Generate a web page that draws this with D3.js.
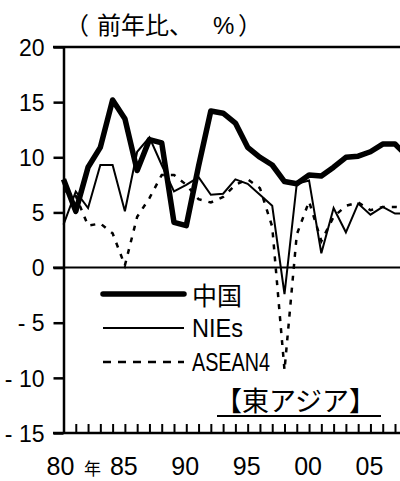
<!DOCTYPE html>
<html lang="ja">
<head>
    <meta charset="UTF-8">
    <title>東アジア 実質GDP成長率</title>
    <script src="https://cdn.jsdelivr.net/npm/d3@7/dist/d3.min.js"></script>
    <style>
        body { margin: 0; background: #fff; }
        text { fill: #000; }
    </style>
</head>
<body>
<script>
    // データ（前年比、%）
    var years = [1980, 1981, 1982, 1983, 1984, 1985, 1986, 1987, 1988, 1989,
                 1990, 1991, 1992, 1993, 1994, 1995, 1996, 1997, 1998, 1999,
                 2000, 2001, 2002, 2003, 2004, 2005, 2006, 2007, 2008];
    var china  = [8.0, 5.1, 9.1, 10.9, 15.2, 13.5, 8.8, 11.6, 11.3, 4.1,
                  3.8, 9.2, 14.2, 14.0, 13.1, 10.9, 10.0, 9.3, 7.8, 7.6,
                  8.4, 8.3, 9.1, 10.0, 10.1, 10.5, 11.2, 11.2, 10.1];
    var nies   = [3.9, 6.9, 5.4, 9.3, 9.3, 5.1, 10.5, 11.8, 9.3, 6.9,
                  7.5, 8.2, 6.6, 6.7, 8.0, 7.6, 6.6, 5.6, -2.4, 7.6,
                  7.9, 1.3, 5.4, 3.2, 5.8, 4.8, 5.5, 4.9, 4.9];
    var asean4 = [7.0, 6.5, 3.8, 4.0, 3.1, 0.2, 4.6, 6.3, 8.4, 8.4,
                  7.5, 6.2, 5.9, 6.4, 7.5, 8.0, 7.2, 3.7, -9.3, 3.0,
                  6.0, 2.4, 4.6, 5.6, 5.9, 5.2, 5.5, 5.5, 5.4];
    var yTicks = [-15, -10, -5, 0, 5, 10, 15, 20];
    var xLabelYears = [1980, 1985, 1990, 1995, 2000, 2005];
    var seriesNames = ["中国", "NIEs", "ASEAN4"];

    var width = 400, height = 481;
    var latin = "'Liberation Sans', Arial, sans-serif";
    var cjk = "'Noto Sans CJK JP', 'Noto Sans CJK SC', sans-serif";

    var svg = d3.select("body").append("svg")
        .attr("width", width).attr("height", height);

    // 比例尺
    var x = d3.scaleLinear().domain([1980, 2007]).range([63.5, 395]);
    var y = d3.scaleLinear().domain([-15, 20]).range([433, 47]);

    // 上の枠線、0の線
    svg.append("line").attr("x1", 53).attr("x2", width)
        .attr("y1", y(20)).attr("y2", y(20))
        .attr("stroke", "#000").attr("stroke-width", 2.5);
    svg.append("line").attr("x1", 53).attr("x2", width)
        .attr("y1", y(0)).attr("y2", y(0))
        .attr("stroke", "#000").attr("stroke-width", 2);

    // y 軸
    var yAxis = d3.axisLeft(y).tickValues(yTicks)
        .tickSize(10).tickSizeOuter(0).tickPadding(9)
        .tickFormat(function (d) { return d < 0 ? "- " + Math.abs(d) : d; });
    var gy = svg.append("g").attr("transform", "translate(" + x(1980) + ",0)").call(yAxis);
    gy.select(".domain").attr("stroke-width", 2.5);
    gy.selectAll(".tick line").attr("stroke-width", 2.5);
    gy.selectAll("text").attr("font-family", latin).attr("font-size", 23)
        .attr("fill", "#000").attr("dy", "0.36em");

    // x 軸（下）
    var xAxis = d3.axisBottom(x).tickValues(years.filter(function (d) { return d <= 2007; }))
        .tickSizeInner(-9).tickSizeOuter(0).tickFormat("");
    var gx = svg.append("g").attr("transform", "translate(0," + y(-15) + ")").call(xAxis);
    gx.select(".domain").remove();
    gx.selectAll(".tick line").attr("stroke-width", 2);
    svg.append("line").attr("x1", 53).attr("x2", width)
        .attr("y1", y(-15)).attr("y2", y(-15))
        .attr("stroke", "#000").attr("stroke-width", 2.5);

    svg.selectAll("text.xlab").data(xLabelYears).enter().append("text")
        .attr("class", "xlab")
        .attr("x", function (d) { return x(d) - (d === 1980 ? 3 : 1); })
        .attr("y", 475)
        .attr("text-anchor", "middle")
        .attr("font-family", latin).attr("font-size", 25)
        .text(function (d) { return String(d).slice(2); });
    svg.append("text").attr("x", 84).attr("y", 475)
        .attr("font-family", cjk).attr("font-size", 17).text("年");

    // 単位
    var title = svg.append("text").attr("y", 34).attr("font-family", cjk).attr("font-size", 24);
    title.append("tspan").attr("x", 65).text("（");
    title.append("tspan").attr("x", 97).text("前年比、");
    title.append("tspan").attr("x", 213).attr("font-family", latin).text("%");
    title.append("tspan").attr("x", 238).text("）");

    // 折れ線
    var line = function (values) {
        return d3.line()
            .x(function (d, i) { return x(years[i]); })
            .y(function (d) { return y(d); })(values);
    };
    svg.append("path").attr("d", line(asean4))
        .attr("fill", "none").attr("stroke", "#000")
        .attr("stroke-width", 2.5).attr("stroke-dasharray", "5,7");
    svg.append("path").attr("d", line(nies))
        .attr("fill", "none").attr("stroke", "#000")
        .attr("stroke-width", 2).attr("stroke-linejoin", "miter");
    svg.append("path").attr("d", line(china))
        .attr("fill", "none").attr("stroke", "#000")
        .attr("stroke-width", 5.5).attr("stroke-linejoin", "round");

    // 凡例
    var legendY = [294, 328, 362];
    var legendStroke = [5.5, 2, 2.5];
    var legendDash = [null, null, "8,7"];
    seriesNames.forEach(function (name, i) {
        svg.append("line").attr("x1", 103).attr("x2", 184)
            .attr("y1", legendY[i]).attr("y2", legendY[i])
            .attr("stroke", "#000").attr("stroke-width", legendStroke[i])
            .attr("stroke-linecap", i === 0 ? "round" : "butt")
            .attr("stroke-dasharray", legendDash[i]);
        var t = svg.append("text").attr("x", 192).attr("y", legendY[i] + 9)
            .text(name);
        if (i === 0) {
            t.attr("font-family", cjk).attr("font-size", 25).attr("y", legendY[i] + 11);
        } else {
            t.attr("font-family", latin).attr("font-size", 25)
                .attr("textLength", i === 1 ? 51 : 78)
                .attr("lengthAdjust", "spacingAndGlyphs");
        }
    });

    // 【東アジア】
    svg.append("text").attr("x", 215).attr("y", 411)
        .attr("font-family", cjk).attr("font-size", 27).text("【東アジア】");
    svg.append("line").attr("x1", 217).attr("x2", 381)
        .attr("y1", 416).attr("y2", 416)
        .attr("stroke", "#000").attr("stroke-width", 2);
</script>
</body>
</html>
